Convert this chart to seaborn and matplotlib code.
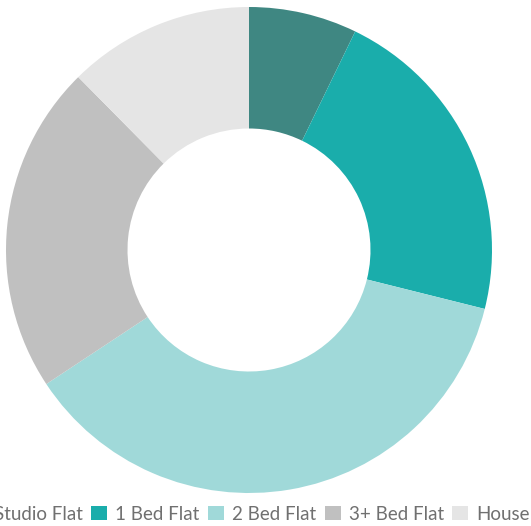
import matplotlib
matplotlib.use("Agg")
import matplotlib.pyplot as plt
import seaborn as sns
from matplotlib.patches import Patch

categories = ["Studio Flat", "1 Bed Flat", "2 Bed Flat", "3+ Bed Flat", "House"]
shares = [7.2, 21.7, 36.8, 21.9, 12.4]
colors = ["#3f8782", "#1aadab", "#a0d9d9", "#c0c0c0", "#e5e5e5"]

sns.set_theme(style="white")
plt.rcParams['font.family'] = ['Lato', 'DejaVu Sans']
palette = sns.color_palette(colors)

W, H = 531, 526
fig = plt.figure(figsize=(W / 100, H / 100), dpi=100)
cx, cy, R = 249, 250, 243
ax = fig.add_axes([(cx - R) / W, (H - cy - R) / H, 2 * R / W, 2 * R / H])
ax.pie(shares, colors=palette, startangle=90, counterclock=False, radius=1,
       wedgeprops=dict(width=0.5, linewidth=0), frame=False)
ax.set_xlim(-1, 1)
ax.set_ylim(-1, 1)
ax.axis("off")

handles = [Patch(facecolor=c, edgecolor="none") for c in palette]
fig.legend(handles, categories, loc="center", bbox_to_anchor=(250 / W, 1 - 514 / H),
           ncol=5, frameon=False, fontsize=13.5, handlelength=0.85, handleheight=0.85,
           handletextpad=0.43, columnspacing=0.45, labelcolor="#707070",
           borderaxespad=0, borderpad=0)

fig.savefig("out.png", dpi=100)
